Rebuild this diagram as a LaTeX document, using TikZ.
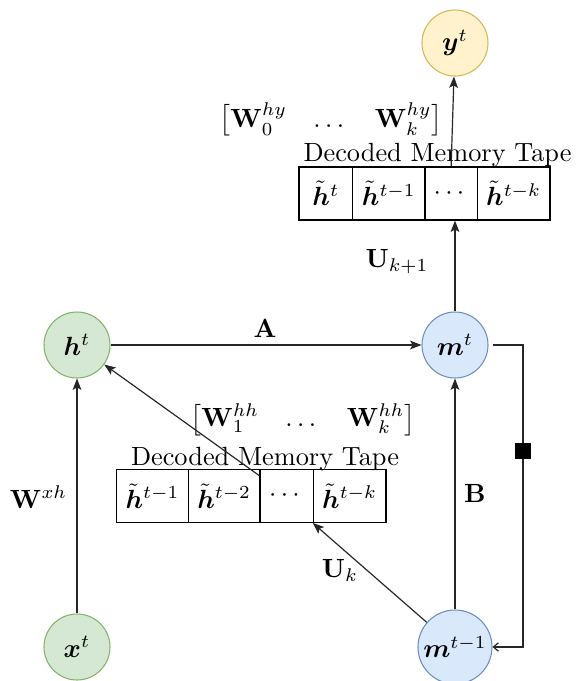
\documentclass[tikz,border=0pt]{standalone}
\usepackage{amsmath}
\usepackage{bm}
\usetikzlibrary{arrows.meta,calc}
\definecolor{gfill}{HTML}{D5E8D4}
\definecolor{gdraw}{HTML}{82B366}
\definecolor{bfill}{HTML}{DAE8FC}
\definecolor{bdraw}{HTML}{6C8EBF}
\definecolor{yfill}{HTML}{FFF2CC}
\definecolor{ydraw}{HTML}{D6B656}
\begin{document}
\begin{tikzpicture}[x=0.38pt,y=-0.38pt,
  circ/.style={circle,draw,inner sep=0pt,minimum size=25.08pt,line width=0.4pt},
  greennode/.style={circ,fill=gfill,draw=gdraw},
  bluenode/.style={circ,fill=bfill,draw=bdraw},
  yellownode/.style={circ,fill=yfill,draw=ydraw},
  cell/.style={draw,inner sep=0pt,minimum height=20.14pt,line width=0.45pt},
  lbl/.style={inner sep=0pt},
  conn/.style={draw=black!85,line width=0.45pt},
  arr/.style={conn,-{Stealth[length=4.3pt,width=3.3pt,inset=0.9pt]}},
  fbarrow/.style={conn,-{Straight Barb[length=1.9pt,width=3.2pt]}},
  sqmark/.style={fill=black,inner sep=0pt,minimum size=6.08pt}
]
\useasboundingbox (0,0) rectangle (577,681);

% nodes
\node[yellownode] (y) at (455,43) {$\bm{y}^{t}$};
\node[greennode] (h) at (77,345) {$\bm{h}^{t}$};
\node[bluenode] (m) at (455,345) {$\bm{m}^{t}$};
\node[greennode] (x) at (77,647) {$\bm{x}^{t}$};
\node[bluenode,minimum size=28.12pt] (mp) at (455,647) {$\bm{m}^{t-1}$};

% top tape
\node[cell,minimum width=20.41pt] (tc1) at (325.85,193.5) {$\tilde{\bm{h}}^{t}$};
\node[cell,minimum width=27.47pt] (tc2) at (388.85,193.5) {$\tilde{\bm{h}}^{t-1}$};
\node[cell,minimum width=19.87pt] (tc3) at (451.15,193.5) {$\cdots$};
\node[cell,minimum width=27.63pt] (tc4) at (513.65,193.5) {$\tilde{\bm{h}}^{t-k}$};
\node[lbl,anchor=base] (tlab) at (437.5,161.7) {Decoded Memory Tape};
\node[lbl] (tmat) at (331,120) {$\begin{bmatrix}\mathbf{W}_0^{hy} & \dots & \mathbf{W}_k^{hy}\end{bmatrix}$};

% lower tape
\node[cell,minimum width=27.21pt] (lc1) at (152.5,495.8) {$\tilde{\bm{h}}^{t-1}$};
\node[cell,minimum width=27.25pt] (lc2) at (224.15,495.8) {$\tilde{\bm{h}}^{t-2}$};
\node[cell,minimum width=20.25pt] (lc3) at (286.65,495.8) {$\cdots$};
\node[cell,minimum width=27.63pt] (lc4) at (349.65,495.8) {$\tilde{\bm{h}}^{t-k}$};
\node[lbl,anchor=base] (llab) at (265,465) {Decoded Memory Tape};
\node[lbl] (lmat) at (303,420) {$\begin{bmatrix}\mathbf{W}_1^{hh} & \dots & \mathbf{W}_k^{hh}\end{bmatrix}$};

% edge labels
\node[lbl] (lA) at (265,328) {$\mathbf{A}$};
\node[lbl] (lB) at (475,493) {$\mathbf{B}$};
\node[lbl] (lW) at (38.5,497) {$\mathbf{W}^{xh}$};
\node[lbl] (lUk) at (340,570) {$\mathbf{U}_{k}$};
\node[lbl] (lUk1) at (397,262) {$\mathbf{U}_{k+1}$};

% connectors
\draw[arr] (x) -- (h);
\draw[arr] (h) -- (m);
\draw[arr] (mp) -- (m);
\draw[arr] (mp) -- (lc4.south west);
\coordinate (lsrc) at ($(lc3.north west)+(0,7)$);
\draw[arr] (lsrc) -- (h);
\draw[arr] (m.north) -- (m.north |- tc3.south);
\draw[arr] (tc3.north) -- (y);

% feedback
\coordinate (fbs) at ($(m.east)+(4.5,0)$);
\coordinate (fbc) at (523,345);
\draw[fbarrow] (fbs) -- (fbc) -- (fbc |- mp.east) -- (mp.east);
\node[sqmark] (fbm) at (523,451) {};
\end{tikzpicture}
\end{document}
